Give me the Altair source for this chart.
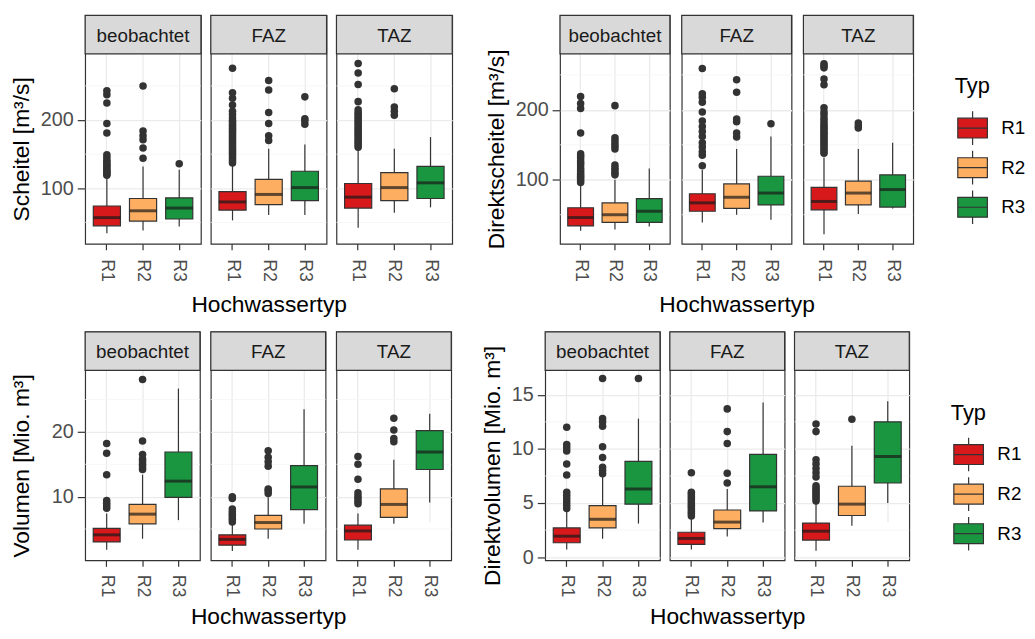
import altair as alt
import pandas as pd

TYPES = ["R1", "R2", "R3"]
SOURCES = ["beobachtet", "FAZ", "TAZ"]
TYPE_COLORS = ["#d7191c", "#fdae61", "#1a9641"]
X_TITLE = "Hochwassertyp"
LEGEND_TITLE = "Typ"

# ---------- Scheitel [m³/s] ----------
SCHEITEL_LO = {"beobachtet": [34, 38, 44], "FAZ": [53, 61, 61], "TAZ": [42, 64, 72]}
SCHEITEL_Q1 = {"beobachtet": [45, 52, 55], "FAZ": [68, 76, 82], "TAZ": [71, 82, 85]}
SCHEITEL_MED = {"beobachtet": [57, 67, 71], "FAZ": [80, 91, 101], "TAZ": [87, 101, 108]}
SCHEITEL_Q3 = {"beobachtet": [74, 85, 86], "FAZ": [95, 113, 125], "TAZ": [107, 123, 132]}
SCHEITEL_HI = {"beobachtet": [116, 132, 127], "FAZ": [134, 158, 164], "TAZ": [156, 158, 175]}
SCHEITEL_OUT = {
    "beobachtet": {"R1": [119, 121, 123, 125, 127, 130, 133, 135, 138, 141, 145, 149, 181, 195, 225, 237, 243],
                   "R2": [144, 159, 171, 177, 184, 250],
                   "R3": [136]},
    "FAZ": {"R1": [137, 140, 143, 146, 149, 152, 155, 158, 161, 164, 167, 170, 173, 176, 179, 182, 185, 188,
                   191, 194, 197, 199, 203, 208, 213, 222, 232, 240, 276],
            "R2": [170, 177, 195, 211, 244, 258],
            "R3": [194, 199, 202, 234]},
    "TAZ": {"R1": [160, 163, 166, 169, 172, 175, 178, 181, 184, 187, 190, 193, 196, 199, 202, 205, 208, 211,
                   215, 227, 252, 269, 283],
            "R2": [207, 213, 219, 246],
            "R3": []},
}

# ---------- Direktscheitel [m³/s] ----------
DSCHEITEL_LO = {"beobachtet": [27, 29, 33], "FAZ": [39, 50, 43], "TAZ": [22, 51, 59]}
DSCHEITEL_Q1 = {"beobachtet": [34, 39, 39], "FAZ": [55, 59, 64], "TAZ": [57, 64, 61]}
DSCHEITEL_MED = {"beobachtet": [46, 50, 55], "FAZ": [67, 75, 81], "TAZ": [69, 81, 86]}
DSCHEITEL_Q3 = {"beobachtet": [60, 67, 73], "FAZ": [80, 94, 105], "TAZ": [89, 98, 107]}
DSCHEITEL_HI = {"beobachtet": [91, 100, 116], "FAZ": [114, 144, 162], "TAZ": [132, 144, 153]}
DSCHEITEL_OUT = {
    "beobachtet": {"R1": [96, 99, 102, 105, 108, 111, 114, 117, 121, 124, 127, 131, 134, 137, 167, 202, 209, 219],
                   "R2": [107, 110, 114, 117, 121, 144, 148, 152, 156, 160, 206],
                   "R3": []},
    "FAZ": {"R1": [120, 135, 140, 147, 153, 162, 169, 176, 184, 197, 211, 218, 223, 259],
            "R2": [161, 167, 183, 187, 225, 243],
            "R3": [180]},
    "TAZ": {"R1": [138, 141, 144, 147, 150, 153, 156, 159, 162, 165, 168, 171, 174, 177, 180, 184, 188, 193,
                   197, 203, 236, 244, 260, 263, 266],
            "R2": [174, 177, 181],
            "R3": []},
}

# ---------- Volumen [Mio. m³] ----------
VOL_LO = {"beobachtet": [1.8, 3.5, 6.4], "FAZ": [1.6, 3.5, 5.8], "TAZ": [1.8, 5.8, 9.1]}
VOL_Q1 = {"beobachtet": [3.0, 5.8, 9.9], "FAZ": [2.5, 5.0, 8.0], "TAZ": [3.3, 6.8, 14.2]}
VOL_MED = {"beobachtet": [4.1, 7.3, 12.4], "FAZ": [3.4, 6.0, 11.5], "TAZ": [4.7, 8.8, 16.9]}
VOL_Q3 = {"beobachtet": [5.1, 8.8, 16.9], "FAZ": [4.1, 7.1, 14.8], "TAZ": [5.6, 11.2, 20.2]}
VOL_HI = {"beobachtet": [7.4, 13.4, 26.7], "FAZ": [5.8, 9.9, 23.5], "TAZ": [7.4, 15.7, 22.8]}
VOL_OUT = {
    "beobachtet": {"R1": [8.2, 8.6, 9.0, 9.4, 13.4, 16.7, 18.2],
                   "R2": [14.2, 14.6, 15.0, 15.4, 15.8, 16.5, 18.6, 28.1],
                   "R3": []},
    "FAZ": {"R1": [6.1, 6.5, 6.9, 7.3, 7.7, 8.1, 9.7, 10.0],
            "R2": [10.5, 10.9, 11.2, 14.7, 15.4, 16.1, 17.1],
            "R3": []},
    "TAZ": {"R1": [8.9, 9.3, 9.7, 10.1, 10.6, 12.7, 15.0, 16.2],
            "R2": [18.5, 19.0, 20.3, 22.1],
            "R3": []},
}

# ---------- Direktvolumen [Mio. m³] ----------
DVOL_LO = {"beobachtet": [0.7, 1.7, 3.1], "FAZ": [0.7, 1.9, 3.2], "TAZ": [0.6, 2.9, 5.0]}
DVOL_Q1 = {"beobachtet": [1.33, 2.7, 4.9], "FAZ": [1.18, 2.64, 4.27], "TAZ": [1.58, 3.85, 6.85]}
DVOL_MED = {"beobachtet": [1.94, 3.5, 6.3], "FAZ": [1.73, 3.24, 6.5], "TAZ": [2.4, 4.9, 9.3]}
DVOL_Q3 = {"beobachtet": [2.7, 4.76, 8.85], "FAZ": [2.3, 4.36, 9.5], "TAZ": [3.15, 6.55, 12.5]}
DVOL_HI = {"beobachtet": [4.3, 7.4, 12.8], "FAZ": [3.6, 6.3, 14.3], "TAZ": [5.0, 10.3, 14.4]}
DVOL_OUT = {
    "beobachtet": {"R1": [4.5, 4.8, 5.1, 5.4, 5.7, 6.0, 7.6, 8.6, 9.8, 10.1, 10.4, 12.0],
                   "R2": [7.7, 8.0, 8.3, 9.2, 10.2, 12.1, 12.5, 12.8, 16.5],
                   "R3": [16.5]},
    "FAZ": {"R1": [3.8, 4.0, 4.2, 4.4, 4.6, 4.8, 5.0, 5.2, 5.4, 5.6, 5.8, 6.0, 7.8],
            "R2": [6.85, 7.75, 10.5, 11.6, 13.7],
            "R3": []},
    "TAZ": {"R1": [5.2, 5.4, 5.6, 5.8, 6.0, 6.2, 6.4, 6.6, 7.4, 7.8, 8.2, 8.6, 9.0, 11.6, 12.3],
            "R2": [12.75],
            "R3": []},
}

PANELS = [
    dict(title="Scheitel [m³/s]", stats=(SCHEITEL_LO, SCHEITEL_Q1, SCHEITEL_MED, SCHEITEL_Q3, SCHEITEL_HI),
         out=SCHEITEL_OUT, w=117, gap=10, domain=[18.6, 297], ticks=[100, 200],
         minor=[50, 150, 250], lpad=9, xpad=12, legy=62, ytp=7),
    dict(title="Direktscheitel [m³/s]", stats=(DSCHEITEL_LO, DSCHEITEL_Q1, DSCHEITEL_MED, DSCHEITEL_Q3, DSCHEITEL_HI),
         out=DSCHEITEL_OUT, w=111, gap=12, domain=[8.4, 280], ticks=[100, 200],
         minor=[50, 150, 250], lpad=9, xpad=12, legy=62, ytp=7),
    dict(title="Volumen [Mio. m³]", stats=(VOL_LO, VOL_Q1, VOL_MED, VOL_Q3, VOL_HI),
         out=VOL_OUT, w=116, gap=11, domain=[0.15, 29.5], ticks=[10, 20],
         minor=[5, 15, 25], lpad=8, xpad=9, legy=72, ytp=18),
    dict(title="Direktvolumen [Mio. m³]", stats=(DVOL_LO, DVOL_Q1, DVOL_MED, DVOL_Q3, DVOL_HI),
         out=DVOL_OUT, w=116, gap=10, domain=[-0.3, 17.25], ticks=[0, 5, 10, 15],
         minor=[2.5, 7.5, 12.5], lpad=8, xpad=9, legy=72, ytp=7),
]

H = 231
STRIP = 39
FONT = "Liberation Sans"
LEGEND_PATH = "M-0.88,-0.59H0.88V0.59H-0.88Z M-0.88,0H0.88 M0,-0.59V-1 M0,0.59V1"

color_scale = alt.Scale(domain=TYPES, range=TYPE_COLORS)


def facet(p, src, idx, with_legend):
    W = p["w"]
    S = STRIP
    lo, q1, med, q3, hi = [d[src] for d in p["stats"]]
    box_df = pd.DataFrame({"Typ": TYPES, "lo": lo, "q1": q1, "med": med, "q3": q3, "hi": hi})
    out_rows = [(t, v) for t in TYPES for v in p["out"][src][t]]
    out_df = pd.DataFrame(out_rows, columns=["Typ", "v"])
    minor_df = pd.DataFrame({"v": p["minor"]})
    strip_df = pd.DataFrame({"Quelle": [src]})

    ysc = alt.Scale(domain=p["domain"], range=[H, S], zero=False, nice=False)
    xsc = alt.Scale(domain=TYPES, paddingInner=0.25, paddingOuter=0.225)
    if idx == 0:
        yax = alt.Axis(title=p["title"], values=p["ticks"], grid=True, ticks=True, tickSize=8,
                       labelPadding=4, labelFontSize=20, titleFontSize=23, titlePadding=p["ytp"],
                       minExtent=0)
    else:
        yax = alt.Axis(title=None, values=p["ticks"], grid=True, ticks=False, labels=False,
                       minExtent=0, maxExtent=0)
    xax = alt.Axis(title=X_TITLE if idx == 1 else None, labelAngle=90, labelAlign="left",
                   labelBaseline="middle", grid=True, ticks=True, tickSize=6, labelPadding=p["lpad"],
                   labelFontSize=18, titleFontSize=23, titlePadding=p["xpad"], bandPosition=0.5,
                   minExtent=0)
    X = alt.X("Typ:N", scale=xsc, axis=xax)
    bw = W / 3.2 * 0.75

    minor = alt.Chart(minor_df).mark_rule(color="#f3f3f3", strokeWidth=0.8).encode(
        y=alt.Y("v:Q", scale=ysc, axis=yax))
    whisk = alt.Chart(box_df).mark_rule(color="#333333", strokeWidth=1.2).encode(
        x=X, y=alt.Y("lo:Q", scale=ysc, axis=yax), y2="hi:Q")
    if with_legend:
        leg = alt.Legend(title=LEGEND_TITLE, orient="none", legendX=W + 42, legendY=p["legy"],
                         symbolType=LEGEND_PATH, symbolSize=1156, symbolStrokeColor="#333333",
                         symbolStrokeWidth=1.2, labelFontSize=19, labelColor="#000000",
                         titleFontSize=22, titleFontWeight="normal", titleColor="#000000",
                         titlePadding=12, rowPadding=0, labelOffset=11, padding=0)
    else:
        leg = None
    box = alt.Chart(box_df).mark_bar(stroke="#333333", strokeWidth=1.2).encode(
        x=X, y=alt.Y("q1:Q", scale=ysc, axis=yax), y2="q3:Q",
        color=alt.Color("Typ:N", scale=color_scale, legend=leg))
    median = alt.Chart(box_df).mark_tick(color="#1a1a1a", thickness=3, size=bw).encode(
        x=X, y=alt.Y("med:Q", scale=ysc, axis=yax))
    outl = alt.Chart(out_df).mark_circle(size=58, color="#333333", opacity=1).encode(
        x=X, y=alt.Y("v:Q", scale=ysc, axis=yax))
    strip = alt.Chart(strip_df).mark_rect(fill="#d9d9d9", stroke="#333333", strokeWidth=1.2).encode(
        x=alt.value(0), x2=alt.value(W), y=alt.value(0), y2=alt.value(S))
    label = alt.Chart(strip_df).mark_text(fontSize=19, color="#1a1a1a", font=FONT).encode(
        x=alt.value(W / 2), y=alt.value(S / 2 + 1), text="Quelle:N")
    return alt.layer(minor, whisk, box, median, outl, strip, label).properties(width=W, height=H)


def panel(i, with_legend=False):
    p = PANELS[i]
    charts = [facet(p, s, k, with_legend and k == 2) for k, s in enumerate(SOURCES)]
    return alt.hconcat(*charts, spacing=p["gap"], bounds="flush").resolve_scale(color="independent")


row1 = alt.hconcat(panel(0), panel(1, True), spacing=31).resolve_scale(color="independent")
row2 = alt.hconcat(panel(2), panel(3, True), spacing=28).resolve_scale(color="independent")

chart = (
    alt.concat(row1, row2, columns=1, spacing=13, align="none")
    .resolve_scale(color="independent")
    .properties(padding={"left": 2, "top": 2, "right": 0, "bottom": 0})
    .configure(font=FONT)
    .configure_view(stroke="#333333", strokeWidth=1.2)
    .configure_axis(labelFont=FONT, titleFont=FONT, labelColor="#4d4d4d", titleColor="#000000",
                    titleFontWeight="normal", tickColor="#333333", tickWidth=1.2,
                    gridColor="#ebebeb", gridWidth=1.3, domain=False)
    .configure_legend(labelFont=FONT, titleFont=FONT)
)

chart.save("out.html", embed_options={"renderer": "svg", "actions": False})
